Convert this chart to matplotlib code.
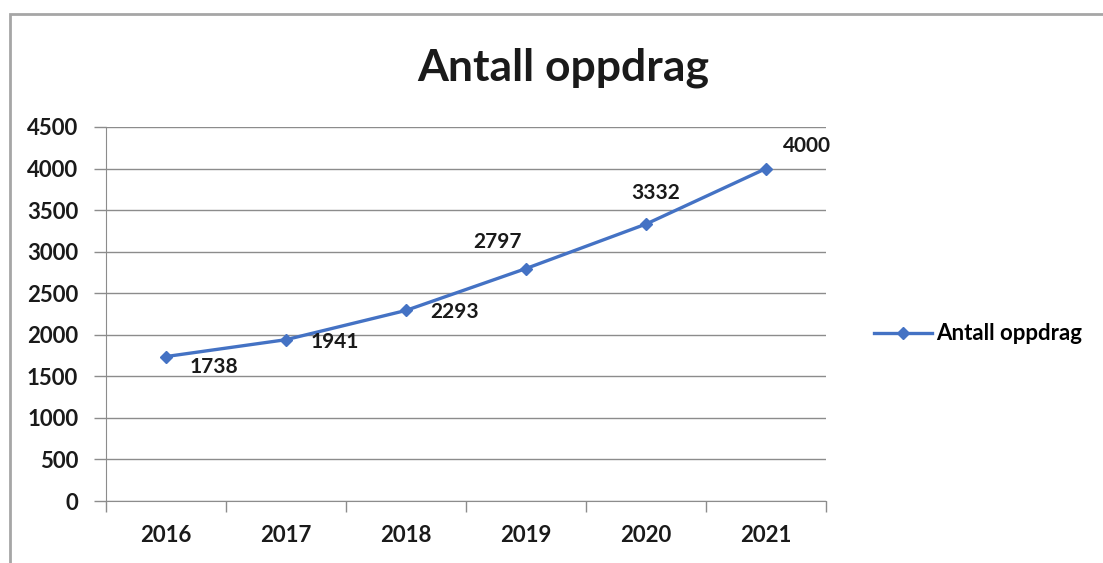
import matplotlib.pyplot as plt
from matplotlib.patches import Rectangle

years = ['2016', '2017', '2018', '2019', '2020', '2021']
values = [1738, 1941, 2293, 2797, 3332, 4000]
# label offsets in pixels (dx, dy) relative to each point
label_offsets = [(48, -10), (49, -2), (49, -2), (-28, 27), (10, 31), (41, 23)]

plt.rcParams['font.family'] = ['Lato', 'DejaVu Sans']

fig = plt.figure(figsize=(11.03, 5.63), dpi=100)
fig.patches.append(Rectangle((10 / 1103, -0.1), 1.2, 1 - 14 / 563 + 0.1,
                             transform=fig.transFigure, fill=False,
                             edgecolor='#a6a6a6', linewidth=2))

ax = fig.add_axes([106 / 1103, 1 - 501 / 563, 720 / 1103, 374 / 563])
x = list(range(len(years)))
line, = ax.plot(x, values, color='#4472C4', linewidth=2.4, marker='D',
                markersize=6, label='Antall oppdrag', zorder=3)

for xi, v, (dx, dy) in zip(x, values, label_offsets):
    ax.annotate(str(v), (xi, v), xytext=(dx, dy), textcoords='offset pixels',
                ha='center', va='center', fontsize=15, fontweight='bold',
                color='#1a1a1a')

ax.set_xlim(-0.5, len(years) - 0.5)
ax.set_ylim(0, 4500)
ax.set_yticks(range(0, 4501, 500))
ax.set_xticks(x)
ax.set_xticklabels(years)
ax.set_xticks([i - 0.5 for i in range(len(years) + 1)], minor=True)
ax.tick_params(axis='x', which='major', length=0, pad=17)
ax.tick_params(axis='x', which='minor', length=8, color='#8c8c8c', width=1)
ax.tick_params(axis='y', length=9, color='#8c8c8c', width=1, pad=11)
for lbl in ax.get_xticklabels() + ax.get_yticklabels():
    lbl.set_fontweight('bold')
    lbl.set_fontsize(16)
    lbl.set_color('#1a1a1a')

ax.grid(axis='y', color='#8c8c8c', linewidth=1)
ax.set_axisbelow(True)
for side in ['top', 'right']:
    ax.spines[side].set_visible(False)
ax.spines['left'].set_color('#8c8c8c')
ax.spines['bottom'].set_color('#8c8c8c')

fig.text(563 / 1103, 1 - 68 / 563, 'Antall oppdrag', ha='center', va='center',
         fontsize=32, fontweight='bold', color='#1a1a1a')

leg = fig.legend(handles=[line], loc='center left',
                 bbox_to_anchor=(854 / 1103, 1 - 334 / 563), frameon=False,
                 handlelength=2.6, handletextpad=0.2,
                 prop={'weight': 'bold', 'size': 16})

fig.savefig('out.png', dpi=100)
